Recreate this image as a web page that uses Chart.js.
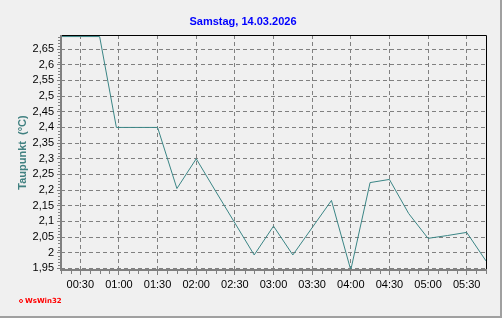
<!DOCTYPE html>
<html>
<head>
<meta charset="utf-8">
<script src="https://cdn.jsdelivr.net/npm/chart.js@4/dist/chart.umd.min.js"></script>
<style>
  html, body { margin: 0; padding: 0; background: #f0f0f0; }
  #frame {
    position: relative; width: 500px; height: 316px;
    border-right: 2px solid #a0a0a0; border-bottom: 2px solid #a0a0a0;
    background: #f0f0f0; overflow: hidden;
  }
  #wswin {
    position: absolute; left: 19px; top: 297px;
    font: bold 7px 'DejaVu Sans', sans-serif; color: #ff0000;
    display: flex; align-items: center; gap: 2px;
  }
  #wswin .dot {
    width: 2px; height: 2px; border: 1.5px solid #ff0000; border-radius: 50%;
  }
</style>
</head>
<body>
<div id="frame">
  <canvas id="chart" width="500" height="316"></canvas>
  <div id="wswin"><span class="dot"></span>WsWin32</div>
</div>
<script>
// readings, every quarter hour (Taupunkt in °C)
const times    = ['00:15','00:30','00:45','00:58','01:15','01:30','01:45','02:00','02:15','02:30','02:45','03:00',
                  '03:15','03:30','03:45','04:00','04:15','04:30','04:45','05:00','05:15','05:30','05:45'];
const taupunkt = [2.69, 2.69, 2.69, 2.40, 2.40, 2.40, 2.205, 2.30, 2.197, 2.095, 1.993, 2.085,
                  1.993, 2.08, 2.167, 1.945, 2.224, 2.234, 2.125, 2.046, 2.055, 2.065, 1.974];
const xTicks   = ['00:30','01:00','01:30','02:00','02:30','03:00','03:30','04:00','04:30','05:00','05:30'];
const yTicks   = [1.95, 2.0, 2.05, 2.1, 2.15, 2.2, 2.25, 2.3, 2.35, 2.4, 2.45, 2.5, 2.55, 2.6, 2.65];

const toMin = t => { const [h, m] = t.split(':').map(Number); return h * 60 + m; };
const fmtTime = v => String(Math.floor(v / 60)).padStart(2, '0') + ':' + String(v % 60).padStart(2, '0');
const fmtNum = v => String(+v.toFixed(2)).replace('.', ',');

const GRID = '#808080';
const FONT = "'Liberation Sans', Arial, sans-serif";

// frame lines (black top/right, solid gray axes) + minor ticks
const framePlugin = {
  id: 'frame',
  afterDraw(chart) {
    const { ctx, chartArea: a, scales: { x, y } } = chart;
    ctx.save();
    ctx.strokeStyle = '#000';
    ctx.lineWidth = 1;
    ctx.beginPath();
    ctx.moveTo(a.left, a.top + 0.5);
    ctx.lineTo(a.right + 0.5, a.top + 0.5);
    ctx.lineTo(a.right + 0.5, a.bottom);
    ctx.stroke();

    ctx.strokeStyle = GRID;
    ctx.beginPath();
    for (let m = 15; m <= 345; m += 7.5) {
      if (m % 30 === 0) continue;
      const px = Math.round(x.getPixelForValue(m)) + 0.5;
      ctx.moveTo(px, a.bottom);
      ctx.lineTo(px, a.bottom + 4);
    }
    for (let i = 195; i <= 269; i++) {
      if (i % 5 === 0) continue;
      const py = Math.round(y.getPixelForValue(i / 100)) + 0.5;
      ctx.moveTo(a.left - 3, py);
      ctx.lineTo(a.left, py);
    }
    ctx.stroke();

    ctx.lineWidth = 2;
    ctx.beginPath();
    ctx.moveTo(a.left, a.top);
    ctx.lineTo(a.left, a.bottom);
    ctx.lineTo(a.right + 1, a.bottom);
    ctx.stroke();
    ctx.restore();
  }
};

new Chart(document.getElementById('chart'), {
  type: 'line',
  data: {
    datasets: [{
      data: times.map((t, i) => ({ x: toMin(t), y: taupunkt[i] })),
      borderColor: '#3a8585',
      borderWidth: 1,
      pointRadius: 0,
      tension: 0
    }]
  },
  options: {
    responsive: false,
    animation: false,
    layout: { padding: { left: 0, right: 14, top: 0, bottom: 0 } },
    plugins: {
      legend: { display: false },
      tooltip: { enabled: false },
      title: {
        display: true,
        text: 'Samstag, 14.03.2026',
        color: '#0000ff',
        font: { family: FONT, size: 11, weight: 'bold' },
        padding: { top: 15, bottom: 6.8 }
      }
    },
    scales: {
      x: {
        type: 'linear',
        min: 15, max: 345,
        afterBuildTicks: s => { s.ticks = xTicks.map(t => ({ value: toMin(t) })); },
        afterFit: s => { s.height = 46; },
        ticks: {
          color: '#000', padding: 3, maxRotation: 0, autoSkip: false,
          font: { family: FONT, size: 11 },
          callback: v => fmtTime(v)
        },
        grid: { color: GRID, tickColor: GRID, tickLength: 5, lineWidth: 1 },
        border: { display: false, dash: [4, 3] }
      },
      y: {
        min: 1.945, max: 2.695,
        afterBuildTicks: s => { s.ticks = yTicks.map(v => ({ value: v })); },
        afterFit: s => { s.width = 61; },
        ticks: {
          color: '#000', padding: 3, autoSkip: false,
          font: { family: FONT, size: 11 },
          callback: v => fmtNum(v)
        },
        grid: { color: GRID, tickColor: GRID, tickLength: 4, lineWidth: 1 },
        border: { display: false, dash: [4, 3] },
        title: {
          display: true,
          text: 'Taupunkt  (°C)',
          color: '#408080',
          font: { family: FONT, size: 11, weight: 'bold' },
          padding: { top: 16, bottom: 0 }
        }
      }
    }
  },
  plugins: [framePlugin]
});
</script>
</body>
</html>
